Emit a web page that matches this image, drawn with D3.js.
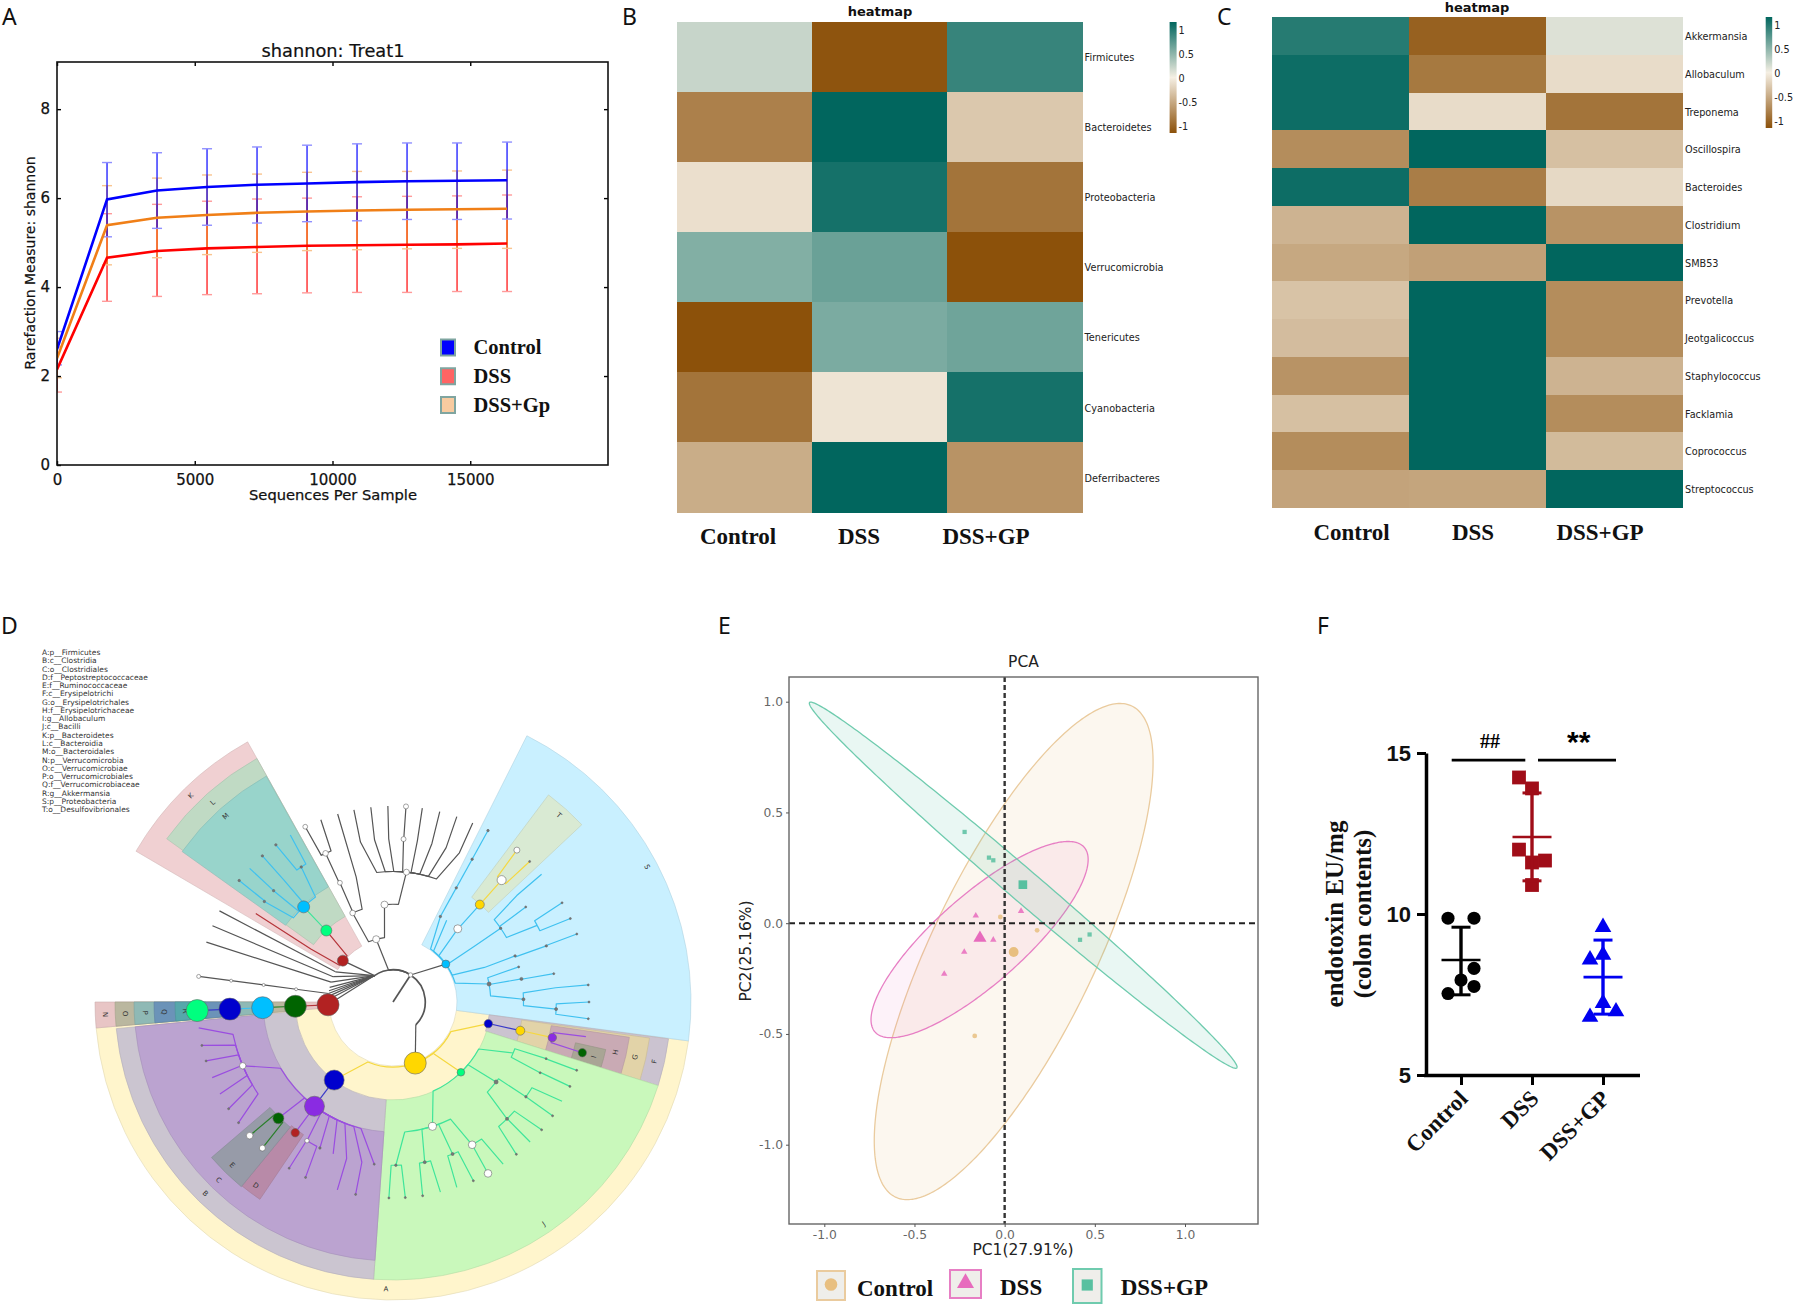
<!DOCTYPE html>
<html>
<head>
<meta charset="utf-8">
<script src="https://cdn.jsdelivr.net/npm/d3@7"></script>
<style>
  body { margin: 0; background: #fff; }
  text { font-family: "DejaVu Sans"; }
  .serif { font-family: "Liberation Serif"; font-weight: bold; fill: #111; }
  .letter { font-family: "Noto Sans"; font-size: 23px; fill: #111; }
</style>
</head>
<body>
<div id="main"></div>
<script>
// panel A
const rareSeqs = [1, 1816, 3631, 5446, 7261, 9076, 10891, 12706, 14521, 16336]
const rareControl = [2.6, 5.97, 6.17, 6.25, 6.30, 6.33, 6.36, 6.38, 6.39, 6.40]
const rareControlHi = [3.0, 6.80, 7.02, 7.11, 7.15, 7.19, 7.22, 7.24, 7.24, 7.26]
const rareControlLo = [2.25, 5.13, 5.32, 5.39, 5.44, 5.47, 5.49, 5.52, 5.52, 5.53]
const rareDss = [2.15, 4.66, 4.81, 4.87, 4.90, 4.93, 4.94, 4.95, 4.96, 4.98]
const rareDssHi = [2.65, 5.65, 5.86, 5.93, 5.98, 6.00, 6.03, 6.04, 6.05, 6.07]
const rareDssLo = [1.64, 3.68, 3.79, 3.83, 3.85, 3.87, 3.88, 3.88, 3.90, 3.90]
const rareGp = [2.4, 5.39, 5.56, 5.62, 5.67, 5.70, 5.72, 5.74, 5.75, 5.76]
const rareGpHi = [2.85, 6.28, 6.45, 6.52, 6.54, 6.58, 6.60, 6.60, 6.61, 6.63]
const rareGpLo = [1.96, 4.50, 4.66, 4.73, 4.78, 4.82, 4.84, 4.86, 4.87, 4.87]
const rareLegend = ['Control', 'DSS', 'DSS+Gp']

// panels B and C
const groups = ['Control', 'DSS', 'DSS+GP']
const phyla = ['Firmicutes', 'Bacteroidetes', 'Proteobacteria', 'Verrucomicrobia', 'Tenericutes', 'Cyanobacteria', 'Deferribacteres']
const phylaValues = [
  [0.19, -0.98, 0.78],
  [-0.7, 1, -0.25],
  [-0.1, 0.92, -0.78],
  [0.47, 0.57, -1],
  [-1, 0.5, 0.55],
  [-0.78, -0.07, 0.92],
  [-0.42, 1, -0.58]
]
const genera = ['Akkermansia', 'Allobaculum', 'Treponema', 'Oscillospira', 'Bacteroides', 'Clostridium', 'SMB53', 'Prevotella', 'Jeotgalicoccus', 'Staphylococcus', 'Facklamia', 'Coprococcus', 'Streptococcus']
const generaValues = [
  [0.85, -0.9, 0.1],
  [0.95, -0.75, -0.12],
  [0.95, -0.12, -0.78],
  [-0.62, 1, -0.3],
  [0.95, -0.72, -0.14],
  [-0.38, 1, -0.58],
  [-0.45, -0.5, 1],
  [-0.28, 1, -0.62],
  [-0.32, 1, -0.62],
  [-0.58, 1, -0.38],
  [-0.3, 1, -0.62],
  [-0.62, 1, -0.33],
  [-0.48, -0.47, 1]
]
const barTicks = [1, 0.5, 0, -0.5, -1]

// panel D
const cladoLegend = ['A:p__Firmicutes', 'B:c__Clostridia', 'C:o__Clostridiales', 'D:f__Peptostreptococcaceae', 'E:f__Ruminococcaceae', 'F:c__Erysipelotrichi', 'G:o__Erysipelotrichales', 'H:f__Erysipelotrichaceae', 'I:g__Allobaculum', 'J:c__Bacilli', 'K:p__Bacteroidetes', 'L:c__Bacteroidia', 'M:o__Bacteroidales', 'N:p__Verrucomicrobia', 'O:c__Verrucomicrobiae', 'P:o__Verrucomicrobiales', 'Q:f__Verrucomicrobiaceae', 'R:g__Akkermansia', 'S:p__Proteobacteria', 'T:o__Desulfovibrionales']
// label, start deg, end deg, inner radius, outer radius, fill, label radius, label deg
const cladoWedges = [
  ['A', 97.5, 265, 64, 298, '#fff5cc', 287, 181.4],
  ['S', 26.7, 97.5, 64, 298, '#c9f0ff', 288, 62],
  ['K', 300.4, 330.8, 64, 298, '#f0d0d2', 289, 315.6],
  ['L', 305.8, 330.8, 98, 279, '#c0dac4', 269, 317.9],
  ['M', 305.5, 330.7, 132, 259, '#98d4cb', 250, 318],
  ['T', 36.9, 46.8, 131, 259, '#d9ead3', 250, 41.6],
  ['F', 97.6, 107.5, 97, 278, '#cbc3d0', 268, 102.8],
  ['G', 98, 107.5, 130, 259, '#e2d3a8', 248, 102.8],
  ['H', 98.5, 107.5, 160, 239, '#c9aab4', 228, 102.7],
  ['I', 102.6, 107.5, 187, 218, '#a9a595', 208, 105.3],
  ['J', 107.5, 184, 98, 278, '#c9f8bb', 268, 145.8],
  ['B', 184, 264.5, 98, 278, '#cbc5d0', 268, 224.4],
  ['C', 184, 264.5, 130, 259, '#bba3d0', 249, 224.4],
  ['D', 214, 219.4, 160, 238, '#b88aa8', 229, 216.8],
  ['E', 219.4, 229.4, 162, 239, '#979ba8', 229, 224.6],
  ['N', 265, 270, 64, 298, '#e8c5c5', 288, 267.5],
  ['O', 265, 270, 97, 278, '#bab79f', 268, 267.5],
  ['P', 265, 270, 130, 259, '#8fb9b5', 248, 267.5],
  ['Q', 265, 270, 160, 239, '#6b93b8', 229, 267.5],
  ['R', 265, 270, 187, 218, '#56a7ab', 208, 267.5]
]
const nodeColors = { gold: '#ffd700', red: '#b22222', green: '#006400', cyan: '#00bfff', blue: '#0000cd', spring: '#00ff7f', purple: '#8a2be2', white: '#fff', gray: '#777' }
const lineColors = { k: '#555', y: '#f5d840', p: '#9a4de0', g: '#3fe59a', c: '#3fc1f0', d: '#2a7f2a', r: '#b5353a', b: '#3a3ac8' }
// id, parent, level, angle, node size, node colour, branch colour
const cladoNodes = [
  ['c', null, -1, 0, 0, '', 'k'],
  ['ra', 'c', 0, 33, 2.2, 'white', 'k'],
  ['rf', 'ra', 0, 325, 0, '', 'k'],
  ['rb', 'ra', 0, 135, 0, '', 'k'],
  ['rt', 'ra', 0, 352, 0, '', 'k'],
  ['A', 'rb', 1, 160, 11, 'gold', 'k'],
  ['J', 'A', 2, 136, 3.8, 'spring', 'y'],
  ['B', 'A', 2, 217, 10, 'blue', 'y'],
  ['F', 'A', 2, 102.8, 4.2, 'blue', 'y'],
  ['G', 'F', 3, 102.7, 4.5, 'gold', 'b'],
  ['H', 'G', 4, 102.6, 4.2, 'purple', 'y'],
  ['I', 'H', 5, 105, 4.2, 'green', 'p'],
  ['h2', 'H', 5, 100.2, 0, '', 'p'],
  ['C', 'B', 3, 217, 10, 'purple', 'b'],
  ['D', 'C', 4, 216.8, 4.2, 'red', 'p'],
  ['E', 'C', 4, 224.6, 5.5, 'green', 'p'],
  ['e1', 'E', 5, 227, 3.3, 'white', 'd'],
  ['e2', 'E', 5, 221.8, 3, 'white', 'd'],
  ['c1', 'C', 4, 247, 3.2, 'white', 'p'],
  ['c1a', 'c1', 5, 262.4, 0, '', 'p'],
  ['c1b', 'c1', 5, 257.2, 1, 'gray', 'p'],
  ['c1c', 'c1', 5, 252.5, 1, 'gray', 'p'],
  ['c1d', 'c1', 5, 247.3, 0, '', 'p'],
  ['c1e', 'c1', 5, 242, 0, '', 'p'],
  ['c1f', 'c1', 5, 237, 1, 'gray', 'p'],
  ['c1g', 'c1', 5, 232, 1, 'gray', 'p'],
  ['c2', 'C', 4, 211.8, 2.2, 'white', 'p'],
  ['c2a', 'c2', 5, 212, 1, 'gray', 'p'],
  ['c2b', 'c2', 5, 206.5, 1, 'gray', 'p'],
  ['c3', 'C', 4, 206.6, 1.2, 'gray', 'p'],
  ['c4', 'C', 4, 201.5, 0, '', 'p'],
  ['c5', 'C', 5, 196.5, 0, '', 'p'],
  ['c6', 'C', 5, 191, 1, 'gray', 'p'],
  ['c7', 'C', 4, 186.6, 1, 'gray', 'p'],
  ['j1', 'J', 3, 113, 0, '', 'g'],
  ['j2', 'j1', 4, 110.3, 1, 'gray', 'g'],
  ['j3', 'j2', 5, 110.4, 1, 'gray', 'g'],
  ['j4', 'j1', 4, 115.7, 1, 'gray', 'g'],
  ['j5', 'j4', 5, 115.5, 1, 'gray', 'g'],
  ['j6', 'J', 3, 127.8, 2, 'gray', 'g'],
  ['j7', 'j6', 4, 125.5, 1.2, 'gray', 'g'],
  ['j8', 'j7', 5, 120.4, 0, '', 'g'],
  ['j9', 'j7', 5, 125.5, 1, 'gray', 'g'],
  ['j10', 'j6', 4, 135.7, 1.5, 'gray', 'g'],
  ['j11', 'j10', 5, 130.7, 1, 'gray', 'g'],
  ['j12', 'j10', 5, 135.6, 0, '', 'g'],
  ['j13', 'j10', 5, 141, 1, 'gray', 'g'],
  ['j14', 'J', 3, 162.4, 4, 'white', 'g'],
  ['j15', 'j14', 4, 179, 1.2, 'gray', 'g'],
  ['j16', 'j15', 5, 181.2, 1, 'gray', 'g'],
  ['j17', 'j15', 5, 176.4, 1, 'gray', 'g'],
  ['j18', 'j14', 4, 168.8, 1.5, 'gray', 'g'],
  ['j19', 'j18', 5, 171.3, 1, 'gray', 'g'],
  ['j20', 'j18', 5, 166, 0, '', 'g'],
  ['j21', 'j14', 4, 158.6, 1.5, 'gray', 'g'],
  ['j22', 'j21', 5, 161, 0, '', 'g'],
  ['j23', 'j21', 5, 155.8, 1, 'gray', 'g'],
  ['j24', 'j14', 4, 151, 3.8, 'white', 'g'],
  ['j25', 'j24', 5, 145.8, 0, '', 'g'],
  ['j26', 'j24', 5, 151, 3.8, 'white', 'g'],
  ['S', 'ra', 1, 54.3, 4, 'cyan', 'k'],
  ['s1', 'S', 2, 41.5, 4, 'white', 'c'],
  ['T', 's1', 3, 41.7, 4.5, 'gold', 'c'],
  ['t1', 'T', 4, 41.7, 4.5, 'white', 'y'],
  ['t2', 't1', 5, 39.2, 3, 'white', 'y'],
  ['t3', 't1', 5, 44.2, 1, 'gray', 'y'],
  ['s2', 'S', 2, 29, 1.2, 'gray', 'c'],
  ['s3', 's2', 3, 29, 1.2, 'gray', 'c'],
  ['s4', 's3', 4, 29, 1.2, 'gray', 'c'],
  ['s5', 's4', 5, 29, 1.2, 'gray', 'c'],
  ['s6', 'S', 2, 33.3, 0, '', 'c'],
  ['s7', 'S', 3, 55.6, 1.2, 'gray', 'c'],
  ['s8', 's7', 4, 54.4, 1, 'gray', 'c'],
  ['s9', 's7', 5, 49.3, 0, '', 'c'],
  ['s10', 's7', 4, 62, 0, '', 'c'],
  ['s11', 's10', 5, 59.6, 1, 'gray', 'c'],
  ['s12', 's10', 5, 64.8, 1, 'gray', 'c'],
  ['s13', 'S', 3, 69.3, 1.2, 'gray', 'c'],
  ['s14', 's13', 4, 69.9, 1.2, 'gray', 'c'],
  ['s15', 's14', 5, 69.7, 1, 'gray', 'c'],
  ['s16', 'S', 2, 79.4, 2, 'gray', 'c'],
  ['s17', 's16', 3, 74.4, 1, 'gray', 'c'],
  ['s18', 's16', 3, 79.8, 1.5, 'gray', 'c'],
  ['s19', 's18', 4, 80, 1, 'gray', 'c'],
  ['s20', 's16', 3, 88.8, 1.5, 'gray', 'c'],
  ['s21', 's20', 5, 85, 1, 'gray', 'c'],
  ['s22', 's20', 4, 92.5, 1.5, 'gray', 'c'],
  ['s23', 's22', 5, 90, 1, 'gray', 'c'],
  ['s24', 's22', 5, 94.9, 1, 'gray', 'c'],
  ['K', 'rf', 1, 309.5, 5.5, 'red', 'k'],
  ['L', 'K', 2, 317, 5.5, 'spring', 'r'],
  ['M', 'L', 3, 316.8, 6, 'cyan', 'g'],
  ['k1', 'K', 4, 302.8, 0, '', 'r'],
  ['m1', 'M', 4, 308, 1.2, 'gray', 'c'],
  ['m2', 'm1', 5, 308.3, 1.2, 'gray', 'c'],
  ['m3', 'M', 4, 313, 1.2, 'gray', 'c'],
  ['m4', 'm3', 5, 313, 0, '', 'c'],
  ['m5', 'M', 5, 318.2, 1.2, 'gray', 'c'],
  ['m6', 'M', 4, 325.8, 1.2, 'gray', 'c'],
  ['m7', 'm6', 5, 323.3, 1.2, 'gray', 'c'],
  ['m8', 'm6', 5, 328.4, 0, '', 'c'],
  ['N', 'rf', 1, 267.5, 11, 'red', 'k'],
  ['O', 'N', 2, 267.5, 11, 'green', 'r'],
  ['P', 'O', 3, 267.5, 11, 'cyan', 'd'],
  ['Q', 'P', 4, 267.5, 11, 'blue', 'c'],
  ['R', 'Q', 5, 267.5, 11, 'spring', 'b'],
  ['f1', 'rf', 1, 272, 0, '', 'k'],
  ['f2', 'rf', 1, 275, 0, '', 'k'],
  ['f3', 'rf', 1, 280, 0, '', 'k'],
  ['f4', 'rf', 1, 283, 0, '', 'k'],
  ['v1', 'rf', 1, 277.5, 0, '', 'k'],
  ['v2', 'v1', 2, 277.5, 1.5, 'white', 'k'],
  ['v3', 'v2', 3, 277.5, 1.5, 'white', 'k'],
  ['v4', 'v3', 4, 277.5, 1.5, 'white', 'k'],
  ['v5', 'v4', 5, 277.5, 2, 'white', 'k'],
  ['f6', 'rf', 1, 287.8, 0, '', 'k'],
  ['f6b', 'f6', 5, 287.8, 0, '', 'k'],
  ['f7', 'rf', 1, 292.9, 0, '', 'k'],
  ['f7b', 'f7', 5, 292.9, 0, '', 'k'],
  ['f8', 'rf', 1, 297.7, 0, '', 'k'],
  ['f8b', 'f8', 5, 297.7, 0, '', 'k'],
  ['g0', 'rt', 1, 345, 3.5, 'white', 'k'],
  ['g1', 'g0', 2, 355, 3.5, 'white', 'k'],
  ['g2', 'g1', 3, 5.9, 3, 'white', 'k'],
  ['g3', 'g2', 4, 3.7, 2.5, 'white', 'k'],
  ['g4', 'g3', 5, 3.8, 2.5, 'white', 'k'],
  ['g11', 'g2', 5, 358.5, 0, '', 'k'],
  ['g12', 'g2', 5, 353.5, 0, '', 'k'],
  ['g13', 'g2', 5, 348.5, 0, '', 'k'],
  ['g14', 'g2', 5, 8.6, 0, '', 'k'],
  ['g15', 'g2', 5, 13.8, 0, '', 'k'],
  ['g16', 'g2', 5, 19, 0, '', 'k'],
  ['g17', 'g2', 5, 24, 0, '', 'k'],
  ['g5', 'g0', 2, 335.6, 2.8, 'white', 'k'],
  ['g6', 'g5', 3, 336, 2.4, 'white', 'k'],
  ['g7', 'g6', 4, 335.6, 2.8, 'white', 'k'],
  ['g8', 'g7', 5, 338.4, 0, '', 'k'],
  ['g9', 'g7', 5, 333.4, 2.4, 'white', 'k'],
  ['g10', 'g5', 5, 343.6, 0, '', 'k']
]

// panel E
// centre x, centre y, radius x, radius y, correlation
const ellipseControl = [0.05, -0.128, 0.773, 1.12, 0.763]
const ellipseDss = [-0.139, -0.074, 0.602, 0.443, 0.816]
const ellipseGp = [0.103, 0.1715, 1.186, 0.8265, -0.9935]
const pcaControl = [[-0.024, 0.028], [0.18, -0.032], [-0.166, -0.509]]
const pcaDss = [[-0.16, 0.034], [0.091, 0.055], [-0.063, -0.075], [-0.224, -0.13], [-0.335, -0.229]]
const pcaGp = [[-0.222, 0.412], [-0.087, 0.296], [-0.063, 0.284], [0.418, -0.075], [0.471, -0.051]]
const pcaMeans = [[0.05, -0.13], [-0.137, -0.067], [0.101, 0.174]]
const pcaLegend = ['Control', 'DSS', 'DSS+GP']

// panel F
const endoControl = [9.87, 9.87, 7.95, 8.31, 7.75, 7.53]
const endoControlSlot = [-1, 1, 0, 1, 1, -1]
const endoDss = [14.24, 13.9, 12.0, 11.66, 11.6, 10.9]
const endoDssSlot = [-1, 0, -1, 1, 0, 0]
const endoGp = [9.59, 8.58, 8.73, 7.23, 6.97, 6.8]
const endoGpSlot = [0, -1, 0, 0, 1, -1]
const endoMean = [8.57, 12.39, 8.04]
const endoHi = [9.59, 13.76, 9.19]
const endoLo = [7.49, 11.03, 6.89]

const ctx = {
  w: 1796,
  h: 1305,
  brown: '#8c510a',
  mid: '#f5efe3',
  teal: '#01665e'
}

function createViz() {
  let svg = d3.select('#main').append('svg')
    .attr('width', ctx.w)
    .attr('height', ctx.h)
    .style('display', 'block')

  let letters = [['A', 2, 25], ['B', 622, 25], ['C', 1217, 25], ['D', 1, 634], ['E', 718, 634], ['F', 1317, 634]]
  svg.selectAll('.letter').data(letters).join('text')
    .attr('class', 'letter')
    .attr('x', d => d[1])
    .attr('y', d => d[2])
    .text(d => d[0])

  drawRarefaction(svg.append('g'))
  drawHeatmap(svg.append('g'), {
    rows: phyla, values: phylaValues,
    x: [676.5, 1082.6], y: [22, 512.5],
    titleX: 880, titleY: 16,
    labelX: [738, 859, 986], labelY: 543.5,
    bar: [1169.6, 7, 22, 133], barY: [126, 30], id: 'gradB'
  })
  drawHeatmap(svg.append('g'), {
    rows: genera, values: generaValues,
    x: [1272, 1683], y: [17, 508],
    titleX: 1477, titleY: 11.5,
    labelX: [1351.5, 1473, 1600], labelY: 540,
    bar: [1765.7, 6.5, 17, 128], barY: [121, 25], id: 'gradC'
  })
  drawCladogram(svg.append('g'))
  drawPca(svg.append('g'))
  drawEndotoxin(svg.append('g'))
}

function drawRarefaction(g) {
  let x = d3.scaleLinear().domain([0, 20000]).range([57, 608])
  let y = d3.scaleLinear().domain([0, 9.06]).range([465, 62])

  g.append('defs').append('clipPath').attr('id', 'clipA')
    .append('rect')
    .attr('x', 57).attr('y', 62).attr('width', 551).attr('height', 403)

  let series = [
    { mean: rareControl, hi: rareControlHi, lo: rareControlLo, color: '#0000ff', pale: '#8f8fff' },
    { mean: rareGp, hi: rareGpHi, lo: rareGpLo, color: '#f07f17', pale: '#f9c48f' },
    { mean: rareDss, hi: rareDssHi, lo: rareDssLo, color: '#ff0000', pale: '#ff9a9a' }
  ]
  let plot = g.append('g').attr('clip-path', 'url(#clipA)')
  // red error bars first, blue stays on top in the original
  series.slice().reverse().forEach(s => {
    rareSeqs.forEach((q, i) => {
      plot.append('line')
        .attr('x1', x(q)).attr('x2', x(q))
        .attr('y1', y(s.lo[i])).attr('y2', y(s.hi[i]))
        .attr('stroke', s.color).attr('stroke-width', 1.3).attr('opacity', 0.9)
      ;[s.lo[i], s.hi[i]].forEach(v => {
        plot.append('line')
          .attr('x1', x(q) - 5).attr('x2', x(q) + 5)
          .attr('y1', y(v)).attr('y2', y(v))
          .attr('stroke', s.pale).attr('stroke-width', 1.4)
      })
    })
  })
  series.forEach(s => {
    plot.append('path')
      .datum(s.mean)
      .attr('fill', 'none')
      .attr('stroke', s.color)
      .attr('stroke-width', 2.6)
      .attr('d', d3.line().x((d, i) => x(rareSeqs[i])).y(d => y(d)))
  })

  let xAxis = g.append('g').attr('transform', 'translate(0,465)')
    .call(d3.axisBottom(x).tickValues([0, 5000, 10000, 15000]).tickFormat(d3.format('d')).tickSizeInner(-4).tickSizeOuter(0).tickPadding(9))
  let xTop = g.append('g').attr('transform', 'translate(0,62)')
    .call(d3.axisTop(x).tickValues([0, 5000, 10000, 15000]).tickFormat('').tickSizeInner(-4).tickSizeOuter(0))
  let yAxis = g.append('g').attr('transform', 'translate(57,0)')
    .call(d3.axisLeft(y).tickValues([0, 2, 4, 6, 8]).tickSizeInner(-4).tickSizeOuter(0).tickPadding(7))
  let yRight = g.append('g').attr('transform', 'translate(608,0)')
    .call(d3.axisRight(y).tickValues([2, 4, 6, 8]).tickFormat('').tickSizeInner(-4).tickSizeOuter(0))
  ;[xAxis, xTop, yAxis, yRight].forEach(a => {
    a.selectAll('.domain').remove()
    a.selectAll('line').attr('stroke', '#000').attr('stroke-width', 1.4)
    a.selectAll('text').attr('font-size', 15).attr('fill', '#111').attr('stroke', '#111').attr('stroke-width', 0.25)
  })
  g.append('rect')
    .attr('x', 57).attr('y', 62).attr('width', 551).attr('height', 403)
    .attr('fill', 'none').attr('stroke', '#111').attr('stroke-width', 1.6)

  g.append('text').attr('x', 333).attr('y', 57).attr('text-anchor', 'middle')
    .attr('font-size', 17.8).attr('fill', '#111').attr('stroke', '#111').attr('stroke-width', 0.2).text('shannon: Treat1')
  g.append('text').attr('x', 333).attr('y', 500).attr('text-anchor', 'middle')
    .attr('font-size', 14.7).attr('fill', '#111').attr('stroke', '#111').attr('stroke-width', 0.25).text('Sequences Per Sample')
  g.append('text').attr('transform', 'translate(35,263) rotate(-90)').attr('text-anchor', 'middle')
    .attr('font-size', 14).attr('fill', '#111').attr('stroke', '#111').attr('stroke-width', 0.2).text('Rarefaction Measure: shannon')

  let keyY = d3.scalePoint().domain(rareLegend).range([347.5, 405])
  let keyColor = d3.scaleOrdinal().domain(rareLegend).range(['#0000ff', '#ff6464', '#f8cba0'])
  g.selectAll('.key').data(rareLegend).join('rect')
    .attr('class', 'key')
    .attr('x', 441).attr('y', d => keyY(d) - 8)
    .attr('width', 14).attr('height', 16)
    .attr('fill', d => keyColor(d))
    .attr('stroke', '#7fa5a0').attr('stroke-width', 2)
  g.selectAll('.keyText').data(rareLegend).join('text')
    .attr('class', 'keyText serif')
    .attr('x', 473.5).attr('y', d => keyY(d) + 6.5)
    .attr('font-size', 20.5)
    .text(d => d)
}

function drawHeatmap(g, o) {
  let x = d3.scaleBand().domain(groups).range(o.x)
  let y = d3.scaleBand().domain(o.rows).range(o.y)
  let color = d3.scaleLinear().domain([-1, 0, 1]).range([ctx.brown, ctx.mid, ctx.teal])

  o.rows.forEach((r, i) => {
    groups.forEach((c, j) => {
      g.append('rect')
        .attr('x', x(c)).attr('y', y(r))
        .attr('width', x.bandwidth()).attr('height', y.bandwidth())
        .attr('fill', color(o.values[i][j]))
        .attr('shape-rendering', 'crispEdges')
    })
  })

  let rowAxis = g.append('g').attr('transform', `translate(${o.x[1] + 2},1)`)
    .call(d3.axisRight(y).tickSize(0).tickPadding(0))
  rowAxis.select('.domain').remove()
  rowAxis.selectAll('text').attr('font-size', 9.7).attr('fill', '#222')

  g.append('text').attr('x', o.titleX).attr('y', o.titleY).attr('text-anchor', 'middle')
    .attr('font-size', 13).attr('font-weight', 'bold').attr('fill', '#111').text('heatmap')

  let labelX = d3.scaleOrdinal().domain(groups).range(o.labelX)
  g.selectAll('.colLabel').data(groups).join('text')
    .attr('class', 'colLabel serif')
    .attr('x', d => labelX(d)).attr('y', o.labelY)
    .attr('text-anchor', 'middle').attr('font-size', 23)
    .text(d => d)

  // colour bar
  let grad = g.append('defs').append('linearGradient').attr('id', o.id)
    .attr('x1', 0).attr('x2', 0).attr('y1', 1).attr('y2', 0)
  grad.append('stop').attr('offset', '0%').attr('stop-color', ctx.brown)
  grad.append('stop').attr('offset', '50%').attr('stop-color', ctx.mid)
  grad.append('stop').attr('offset', '100%').attr('stop-color', ctx.teal)
  g.append('rect')
    .attr('x', o.bar[0]).attr('y', o.bar[2])
    .attr('width', o.bar[1]).attr('height', o.bar[3] - o.bar[2])
    .attr('fill', `url(#${o.id})`)
  let barScale = d3.scaleLinear().domain([-1, 1]).range(o.barY)
  let barAxis = g.append('g').attr('transform', `translate(${o.bar[0] + o.bar[1] + 2},0)`)
    .call(d3.axisRight(barScale).tickValues(barTicks).tickFormat(d => String(d)).tickSize(0).tickPadding(0))
  barAxis.select('.domain').remove()
  barAxis.selectAll('text').attr('font-size', 9.7).attr('fill', '#222')
}

function drawCladogram(g) {
  let root = g.append('g').attr('transform', 'translate(393,1002)')
  let radius = d3.scaleLinear().domain([-1, 0, 5]).range([0, 32.25, 196])
  let rad = d => d * Math.PI / 180
  let arc = d3.arc()

  root.selectAll('.wedge').data(cladoWedges).join('path')
    .attr('class', 'wedge')
    .attr('d', d => arc({ innerRadius: d[3], outerRadius: d[4], startAngle: rad(d[1]), endAngle: rad(d[2]) }))
    .attr('fill', d => d[5])
    .attr('stroke', d => d3.color(d[5]).darker(0.35))
    .attr('stroke-width', 0.6)
  root.selectAll('.wedgeLabel').data(cladoWedges).join('text')
    .attr('class', 'wedgeLabel')
    .attr('transform', d => {
      let p = d3.pointRadial(rad(d[7]), d[6])
      let flip = d[7] > 90 && d[7] < 270 ? d[7] - 180 : d[7]
      return `translate(${p[0]},${p[1]}) rotate(${flip})`
    })
    .attr('text-anchor', 'middle').attr('dy', '0.35em')
    .attr('font-size', 7).attr('fill', '#333')
    .text(d => d[0])

  let byId = new Map(cladoNodes.map(d => [d[0], d]))
  let edges = root.append('g').attr('fill', 'none')
  cladoNodes.filter(d => d[1]).forEach(d => {
    let p = byId.get(d[1])
    let rp = radius(p[2])
    let rc = radius(d[2])
    let from = d3.pointRadial(rad(p[3]), rp)
    let to = d3.pointRadial(rad(d[3]), rc)
    let delta = ((d[3] - p[3] + 540) % 360) - 180
    let sweep = delta > 0 ? 1 : 0
    let path
    if (p[2] === d[2]) {
      path = `M${from}A${rc},${rc} 0 0 ${sweep} ${to}`
    } else if (p[2] <= 0) {
      path = `M${from}L${to}`
    } else {
      // arc along the parent ring for most of the span, then a straight run out
      let a = d3.pointRadial(rad(p[3] + 0.75 * delta), rp)
      let next = radius(p[2] + 1)
      let b = d3.pointRadial(rad(d[3]), next)
      path = `M${from}A${rp},${rp} 0 0 ${sweep} ${a}L${b}L${to}`
    }
    edges.append('path')
      .attr('d', path)
      .attr('stroke', lineColors[d[6]])
      .attr('stroke-width', d[2] <= 0 ? 1.7 : 1.2)
      .attr('stroke-linejoin', 'round')
  })

  root.selectAll('.node').data(cladoNodes.filter(d => d[4] > 0)).join('circle')
    .attr('class', 'node')
    .attr('cx', d => d3.pointRadial(rad(d[3]), radius(d[2]))[0])
    .attr('cy', d => d3.pointRadial(rad(d[3]), radius(d[2]))[1])
    .attr('r', d => d[4])
    .attr('fill', d => nodeColors[d[5]])
    .attr('stroke', '#666')
    .attr('stroke-width', 0.6)

  let legendY = d3.scalePoint().domain(cladoLegend).range([652.5, 809.5])
  g.selectAll('.cladoKey').data(cladoLegend).join('text')
    .attr('class', 'cladoKey')
    .attr('x', 42).attr('y', d => legendY(d))
    .attr('dy', '0.35em')
    .attr('font-size', 7.5).attr('fill', '#333')
    .text(d => d)
}

function drawPca(g) {
  let x = d3.scaleLinear().domain([-1, 1]).range([824.3, 1185])
  let y = d3.scaleLinear().domain([-1, 1]).range([1144.7, 701.7])
  let left = 789, right = 1258, top = 677, bottom = 1224

  let groupsPca = [
    { e: ellipseControl, pts: pcaControl, color: '#e8bf80', stroke: '#eacb9e', shape: d3.symbolCircle, fill: 0.13 },
    { e: ellipseDss, pts: pcaDss, color: '#e76bbd', stroke: '#e77fc4', shape: d3.symbolTriangle, fill: 0.09 },
    { e: ellipseGp, pts: pcaGp, color: '#58c0a0', stroke: '#6fcbae', shape: d3.symbolSquare, fill: 0.13 }
  ]

  groupsPca.forEach(s => {
    let outline = d3.range(0, 2 * Math.PI + 0.02, 0.02).map(t => {
      let [cx, cy, rx, ry, rho] = s.e
      return [cx + rx * Math.cos(t), cy + ry * (rho * Math.cos(t) + Math.sqrt(1 - rho * rho) * Math.sin(t))]
    })
    g.append('path')
      .datum(outline)
      .attr('d', d3.line().x(d => x(d[0])).y(d => y(d[1])))
      .attr('fill', s.color).attr('fill-opacity', s.fill)
      .attr('stroke', s.stroke).attr('stroke-width', 1.3)
  })

  // dashed zero lines
  g.append('line').attr('x1', left).attr('x2', right).attr('y1', y(0)).attr('y2', y(0))
    .attr('stroke', '#222').attr('stroke-width', 1.9).attr('stroke-dasharray', '6,4')
  g.append('line').attr('x1', x(0)).attr('x2', x(0)).attr('y1', top).attr('y2', bottom)
    .attr('stroke', '#333').attr('stroke-width', 2.4).attr('stroke-dasharray', '5,3')

  groupsPca.forEach((s, i) => {
    let small = d3.symbol().type(s.shape).size(18)
    g.selectAll(null).data(s.pts).join('path')
      .attr('transform', d => `translate(${x(d[0])},${y(d[1])})`)
      .attr('d', small)
      .attr('fill', s.color).attr('opacity', 0.85)
    g.append('path')
      .attr('transform', `translate(${x(pcaMeans[i][0])},${y(pcaMeans[i][1])})`)
      .attr('d', d3.symbol().type(s.shape).size(75))
      .attr('fill', s.color)
  })

  g.append('rect').attr('x', left).attr('y', top).attr('width', right - left).attr('height', bottom - top)
    .attr('fill', 'none').attr('stroke', '#666').attr('stroke-width', 1.4)

  let xAxis = g.append('g').attr('transform', `translate(0,${bottom})`)
    .call(d3.axisBottom(x).tickValues([-1, -0.5, 0, 0.5, 1]).tickFormat(d3.format('.1f')).tickSize(3).tickPadding(3))
  let yAxis = g.append('g').attr('transform', `translate(${left},0)`)
    .call(d3.axisLeft(y).tickValues([-1, -0.5, 0, 0.5, 1]).tickFormat(d3.format('.1f')).tickSize(3).tickPadding(3))
  ;[xAxis, yAxis].forEach(a => {
    a.select('.domain').remove()
    a.selectAll('line').attr('stroke', '#555')
    // plain hyphen as in the picture
    a.selectAll('text').text(d => d3.format('.1f')(d).replace('\u2212', '-'))
      .attr('font-size', 12.3).attr('fill', '#666')
  })

  g.append('text').attr('x', 1023.5).attr('y', 667).attr('text-anchor', 'middle')
    .attr('font-size', 15.5).attr('fill', '#222').text('PCA')
  g.append('text').attr('x', 1023).attr('y', 1255).attr('text-anchor', 'middle')
    .attr('font-size', 15.5).attr('fill', '#222').text('PC1(27.91%)')
  g.append('text').attr('transform', 'translate(751,951) rotate(-90)').attr('text-anchor', 'middle')
    .attr('font-size', 15.5).attr('fill', '#222').text('PC2(25.16%)')

  let keys = [[817, 1271, 28, 29, 857, 1296], [950, 1270, 31, 28, 1000, 1295], [1073, 1269, 28.5, 34, 1120.7, 1295]]
  pcaLegend.forEach((name, i) => {
    let k = keys[i]
    g.append('rect').attr('x', k[0]).attr('y', k[1]).attr('width', k[2]).attr('height', k[3])
      .attr('fill', '#efeeea').attr('stroke', groupsPca[i].stroke).attr('stroke-width', 2)
    g.append('path')
      .attr('transform', `translate(${k[0] + k[2] / 2},${k[1] + k[3] / 2 - 1})`)
      .attr('d', d3.symbol().type(groupsPca[i].shape).size(125))
      .attr('fill', groupsPca[i].color)
    g.append('text').attr('class', 'serif')
      .attr('x', k[4]).attr('y', k[5]).attr('font-size', 23).text(name)
  })
}

function drawEndotoxin(g) {
  let x = d3.scalePoint().domain(groups).range([1461, 1603])
  let y = d3.scaleLinear().domain([5, 15]).range([1075, 753])
  let slot = 13

  let groupsF = [
    { vals: endoControl, slots: endoControlSlot, color: '#000', shape: d3.symbolCircle, size: 135 },
    { vals: endoDss, slots: endoDssSlot, color: '#a00d18', shape: d3.symbolSquare, size: 190 },
    { vals: endoGp, slots: endoGpSlot, color: '#0000f0', shape: d3.symbolTriangle, size: 120 }
  ]
  groupsF.forEach((s, i) => {
    let cx = x(groups[i])
    g.selectAll(null).data(s.vals).join('path')
      .attr('transform', (d, j) => `translate(${cx + s.slots[j] * slot},${y(d)})`)
      .attr('d', d3.symbol().type(s.shape).size(s.size))
      .attr('fill', s.color)
    g.append('line').attr('x1', cx).attr('x2', cx).attr('y1', y(endoLo[i])).attr('y2', y(endoHi[i]))
      .attr('stroke', s.color).attr('stroke-width', 3.4)
    ;[endoLo[i], endoHi[i]].forEach(v => {
      g.append('line').attr('x1', cx - 9.5).attr('x2', cx + 9.5).attr('y1', y(v)).attr('y2', y(v))
        .attr('stroke', s.color).attr('stroke-width', 3)
    })
    g.append('line').attr('x1', cx - 19.5).attr('x2', cx + 19.5).attr('y1', y(endoMean[i])).attr('y2', y(endoMean[i]))
      .attr('stroke', s.color).attr('stroke-width', 2.6)
  })

  let yAxis = g.append('g').attr('transform', 'translate(1426,0)')
    .call(d3.axisLeft(y).tickValues([5, 10, 15]).tickSizeInner(9).tickSizeOuter(0).tickPadding(6))
  yAxis.select('.domain').attr('stroke', '#000').attr('stroke-width', 3.5)
  yAxis.selectAll('line').attr('stroke', '#000').attr('stroke-width', 3)
  yAxis.selectAll('text').style('font-family', 'Liberation Sans').attr('font-weight', 'bold')
    .attr('font-size', 22).attr('fill', '#111')

  let xAxis = g.append('g').attr('transform', 'translate(0,1075)')
    .call(d3.axisBottom(x).tickSize(10).tickFormat(''))
  xAxis.select('.domain').attr('d', 'M1424,0.5H1640').attr('stroke', '#000').attr('stroke-width', 3.5)
  xAxis.selectAll('line').attr('stroke', '#000').attr('stroke-width', 3)

  g.selectAll('.catLabel').data(groups).join('text')
    .attr('class', 'catLabel serif')
    .attr('transform', d => `translate(${x(d) + 8},1100) rotate(-45)`)
    .attr('text-anchor', 'end')
    .attr('font-size', 23)
    .text(d => d)

  let sig = [[1451.7, 1525.3, '##', 1490, 748, 'Liberation Serif', 20], [1538, 1616, '**', 1578.7, 752, 'Liberation Sans', 30]]
  sig.forEach(s => {
    g.append('line').attr('x1', s[0]).attr('x2', s[1]).attr('y1', y(14.78)).attr('y2', y(14.78))
      .attr('stroke', '#000').attr('stroke-width', 2.8)
    g.append('text').attr('x', s[3]).attr('y', s[4]).attr('text-anchor', 'middle')
      .style('font-family', s[5]).attr('font-weight', 'bold').attr('font-size', s[6]).attr('fill', '#000')
      .text(s[2])
  })

  g.append('text').attr('class', 'serif')
    .attr('transform', 'translate(1343,914) rotate(-90)').attr('text-anchor', 'middle')
    .attr('font-size', 25).text('endotoxin EU/mg')
  g.append('text').attr('class', 'serif')
    .attr('transform', 'translate(1371,914) rotate(-90)').attr('text-anchor', 'middle')
    .attr('font-size', 25).text('(colon contents)')
}

createViz()
</script>
</body>
</html>
